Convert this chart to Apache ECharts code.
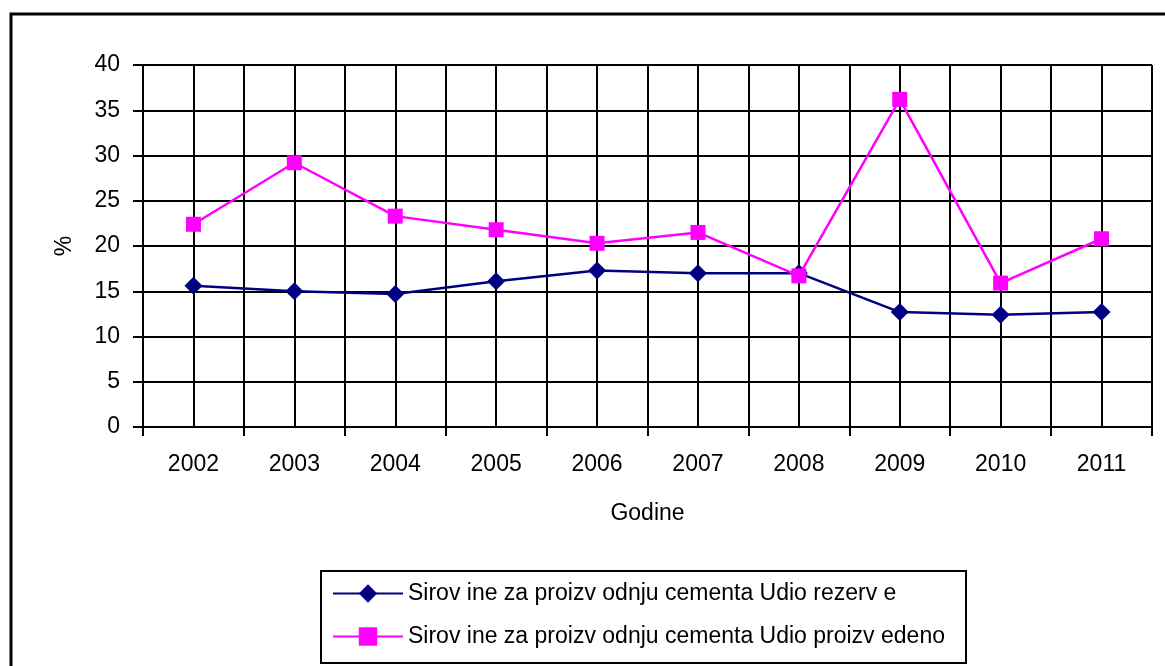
<!DOCTYPE html>
<html><head><meta charset="utf-8">
<script src="https://cdn.jsdelivr.net/npm/echarts@6/dist/echarts.min.js"></script>
<style>html,body{margin:0;padding:0;background:#fff}#c{width:1165px;height:666px}</style>
</head><body><div id="c"></div>
<script>
const categories = ['2002','2003','2004','2005','2006','2007','2008','2009','2010','2011'];
const rezerve = [15.6, 15.0, 14.7, 16.1, 17.3, 17.0, 17.0, 12.7, 12.4, 12.7];
const proizvedeno = [22.4, 29.2, 23.3, 21.8, 20.3, 21.5, 16.7, 36.2, 15.9, 20.8];
const seriesNames = ['Sirov ine za proizv odnju cementa Udio rezerv e', 'Sirov ine za proizv odnju cementa Udio proizv edeno'];
const halfSlots = [];
categories.forEach(c => { halfSlots.push(c + 'a'); halfSlots.push(c + 'b'); });

const font = 'Liberation Sans';
const fs = 23;
const chart = echarts.init(document.getElementById('c'), null, {renderer: 'canvas'});
chart.setOption({
  animation: false,
  textStyle: {fontFamily: font},
  graphic: [
    {type: 'rect', shape: {x: 11, y: 14, width: 1170, height: 720}, style: {fill: 'none', stroke: '#000', lineWidth: 3}, z: -1},
    {type: 'rect', shape: {x: 321, y: 571, width: 645, height: 92}, style: {fill: 'none', stroke: '#000', lineWidth: 2}, z: -1}
  ],
  grid: {left: 143, right: 13, top: 65, bottom: 239, containLabel: false},
  legend: {
    orient: 'vertical', left: 327, top: 577, itemWidth: 70, itemHeight: 23, itemGap: 20,
    textStyle: {fontFamily: font, fontSize: fs, color: '#000'},
    data: seriesNames
  },
  xAxis: [
    {
      type: 'category', data: categories, boundaryGap: true,
      name: 'Godine', nameLocation: 'middle', nameGap: 75,
      nameTextStyle: {fontFamily: font, fontSize: fs, color: '#000'},
      axisLine: {lineStyle: {color: '#000', width: 2}},
      axisTick: {show: true, length: 9, lineStyle: {color: '#000', width: 2}},
      axisLabel: {fontFamily: font, fontSize: fs, color: '#000', margin: 26},
      splitLine: {show: false}
    },
    {
      type: 'category', data: halfSlots, boundaryGap: true, position: 'bottom',
      axisLine: {show: false}, axisTick: {show: false}, axisLabel: {show: false},
      splitLine: {show: true, interval: 0, lineStyle: {color: '#000', width: 2}}
    }
  ],
  yAxis: {
    type: 'value', min: 0, max: 40, interval: 5,
    name: '%', nameLocation: 'middle', nameGap: 67, nameRotate: 90,
    nameTextStyle: {fontFamily: font, fontSize: fs, color: '#000'},
    axisLine: {show: true, lineStyle: {color: '#000', width: 2}},
    axisTick: {show: true, length: 10, lineStyle: {color: '#000', width: 2}},
    axisLabel: {fontFamily: font, fontSize: fs, color: '#000', margin: 23},
    splitLine: {show: true, lineStyle: {color: '#000', width: 2}}
  },
  series: [
    {
      name: seriesNames[0], type: 'line', data: rezerve, xAxisIndex: 0,
      symbol: 'diamond', symbolSize: 18,
      lineStyle: {color: '#000080', width: 2.5}, itemStyle: {color: '#000080'}, z: 3
    },
    {
      name: seriesNames[1], type: 'line', data: proizvedeno, xAxisIndex: 0,
      symbol: 'rect', symbolSize: 15,
      lineStyle: {color: '#FF00FF', width: 2.5}, itemStyle: {color: '#FF00FF'}, z: 4
    }
  ]
});
</script></body></html>
